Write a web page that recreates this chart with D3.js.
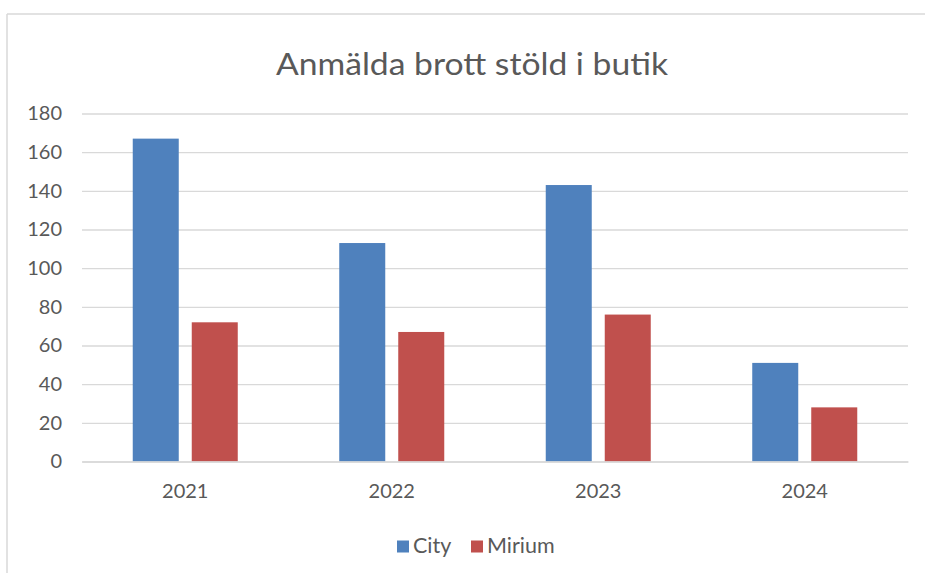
<!DOCTYPE html>
<html>
<head>
<meta charset="utf-8">
<script src="https://cdn.jsdelivr.net/npm/d3@7"></script>
<style>
  html, body { margin: 0; padding: 0; background: #ffffff; }
  svg { display: block; }
</style>
</head>
<body>
<svg id="chart" width="925" height="573"></svg>
<script>
const title = "Anmälda brott stöld i butik";
const years = ["2021", "2022", "2023", "2024"];
const seriesNames = ["City", "Mirium"];
const cityValues = [167, 113, 143, 51];
const miriumValues = [72, 67, 76, 28];
const yTicks = [0, 20, 40, 60, 80, 100, 120, 140, 160, 180];
const colors = ["#4f81bd", "#c0504d"];

const seriesValues = [cityValues, miriumValues];
const font = "Lato, 'Open Sans', sans-serif";
const textColor = "#595959";
const gridColor = "#d9d9d9";

const svg = d3.select("#chart");

// outer frame (top and left edges visible)
svg.append("line").attr("x1", 7).attr("x2", 925).attr("y1", 14).attr("y2", 14)
  .attr("stroke", gridColor).attr("stroke-width", 1.5);
svg.append("line").attr("x1", 7).attr("x2", 7).attr("y1", 14).attr("y2", 573)
  .attr("stroke", gridColor).attr("stroke-width", 1.5);

const plot = { left: 82, right: 908, top: 113.5, bottom: 461.5 };

const x0 = d3.scaleBand().domain(years).range([plot.left, plot.right])
  .paddingInner(0.4915).paddingOuter(0.4915 / 2);
const x1 = d3.scaleBand().domain(seriesNames).range([0, x0.bandwidth()])
  .paddingInner(13 / 59).paddingOuter(0);
const y = d3.scaleLinear().domain([0, 180]).range([plot.bottom, plot.top]);

// gridlines
const yAxis = d3.axisLeft(y).tickValues(yTicks).tickSize(-(plot.right - plot.left)).tickPadding(20);
const gy = svg.append("g").attr("transform", `translate(${plot.left},0)`).call(yAxis);
gy.select(".domain").remove();
gy.selectAll(".tick line").attr("stroke", gridColor).attr("stroke-width", 1.4);
gy.selectAll(".tick text").attr("fill", textColor).attr("font-family", font)
  .attr("font-size", 20).attr("x", -20);

// bars
const groups = svg.append("g").selectAll("g").data(years).join("g")
  .attr("transform", d => `translate(${x0(d)},0)`);
groups.selectAll("rect")
  .data((d, i) => seriesNames.map((s, j) => ({ s, v: seriesValues[j][i], j })))
  .join("rect")
  .attr("x", d => x1(d.s))
  .attr("width", x1.bandwidth())
  .attr("y", d => y(d.v))
  .attr("height", d => y(0) - y(d.v))
  .attr("fill", d => colors[d.j]);

// x axis
const xAxis = d3.axisBottom(x0).tickSize(0).tickPadding(22);
const gx = svg.append("g").attr("transform", `translate(0,${plot.bottom})`).call(xAxis);
gx.select(".domain").attr("stroke", gridColor).attr("stroke-width", 1.4);
gx.selectAll(".tick text").attr("fill", textColor).attr("font-family", font).attr("font-size", 20);

// title
svg.append("text").attr("x", 472).attr("y", 75).attr("text-anchor", "middle")
  .attr("font-family", font).attr("font-size", 31).attr("fill", textColor)
  .attr("textLength", 392).attr("lengthAdjust", "spacingAndGlyphs")
  .text(title);

// legend
const legend = svg.append("g");
const legendItems = [
  { name: seriesNames[0], color: colors[0], sx: 397, tx: 413 },
  { name: seriesNames[1], color: colors[1], sx: 471, tx: 487 }
];
legendItems.forEach(item => {
  legend.append("rect").attr("x", item.sx).attr("y", 540.5).attr("width", 12).attr("height", 12)
    .attr("fill", item.color);
  legend.append("text").attr("x", item.tx).attr("y", 553).attr("font-family", font)
    .attr("font-size", 21.5).attr("fill", textColor).text(item.name);
});
</script>
</body>
</html>
